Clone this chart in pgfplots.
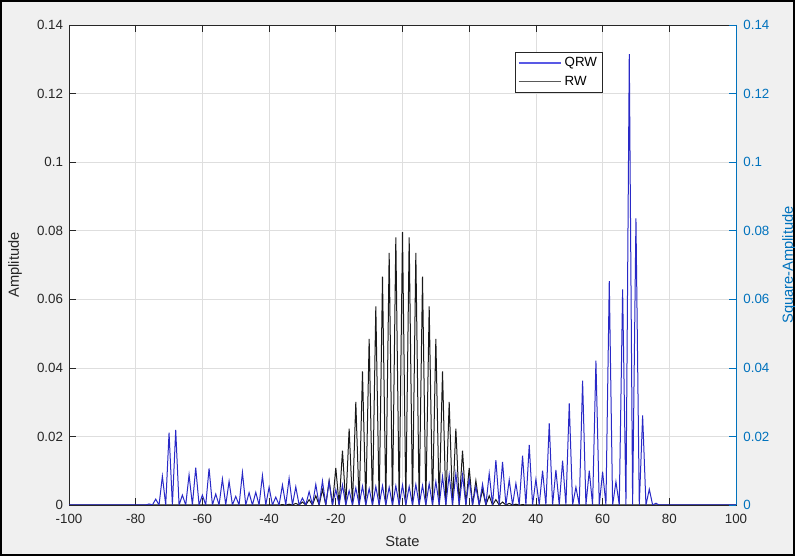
\documentclass[border=0pt]{standalone}
\usepackage{pgfplots}
\pgfplotsset{compat=1.18}
\usepackage{fontspec}
\setmainfont{Liberation Sans}
\definecolor{matgray}{rgb}{0.15,0.15,0.15}
\definecolor{matblue}{rgb}{0,0.447,0.741}
\definecolor{qrwblue}{rgb}{0.16,0.16,0.78}
\definecolor{qrwleg}{rgb}{0.35,0.35,0.9}
\definecolor{rwleg}{rgb}{0.35,0.35,0.35}
\definecolor{figbg}{rgb}{0.94,0.94,0.94}
\definecolor{gridc}{rgb}{0.87,0.87,0.87}

\begin{document}
\begin{tikzpicture}
% figure background and frame
\fill[figbg] (0pt,0pt) rectangle (596.25pt,417pt);
\draw[black, line width=1.5pt] (0.75pt,0.75pt) rectangle (595.5pt,416.25pt);

\begin{axis}[
    at={(51.75pt,38.25pt)}, anchor=south west,
    scale only axis, width=500.25pt, height=360pt,
    xmin=-100, xmax=100, ymin=0, ymax=0.14,
    axis background/.style={fill=white},
    xtick={-100,-80,-60,-40,-20,0,20,40,60,80,100},
    xticklabels={-100,-80,-60,-40,-20,0,20,40,60,80,100},
    ytick={0,0.02,0.04,0.06,0.08,0.1,0.12,0.14},
    yticklabels={0,0.02,0.04,0.06,0.08,0.1,0.12,0.14},
    scaled y ticks=false,
    grid=major, grid style={gridc, line width=0.5pt},
    axis line style={matgray, line width=0.5pt},
    tick style={matgray, line width=0.5pt},
    major tick length=5pt, tick align=inside,
    ytick pos=left, xtick pos=both,
    ticklabel style={font=\fontsize{10}{12}\selectfont, text=matgray},
    xticklabel style={yshift=-3pt},
    yticklabel style={xshift=-1pt},
    xlabel={State}, ylabel={Amplitude},
    label style={font=\fontsize{11}{13}\selectfont, text=matgray},
    xlabel style={at={(axis description cs:0.5,-0.075)}, anchor=center},
    ylabel style={at={(axis description cs:-0.081,0.5)}, anchor=center},
    legend style={at={(0.80,0.944)}, anchor=north east,
        font=\fontsize{10}{12}\selectfont, draw=matgray, fill=white,
        inner sep=2pt, row sep=1.5pt, cells={anchor=west}},
    legend image code/.code={\draw[#1, line width=1.1pt] (0pt,0pt) -- (32pt,0pt);},
]
\addlegendimage{qrwleg}
\addlegendentry{QRW}
\addlegendimage{rwleg}
\addlegendentry{RW}

% RW: classical walk
\addplot[black!90, line width=0.75pt, forget plot] coordinates {
(-100,0)(-41,0)
(-40,0.0000233)(-39,0)(-38,0.0000524)(-37,0)(-36,0.000113)(-35,0)(-34,0.000232)(-33,0)
(-32,0.000458)(-31,0)(-30,0.000864)(-29,0)(-28,0.001560)(-27,0)(-26,0.002698)(-25,0)
(-24,0.004473)(-23,0)(-22,0.007111)(-21,0)(-20,0.010844)(-19,0)(-18,0.015869)(-17,0)
(-16,0.022292)(-15,0)(-14,0.030069)(-13,0)(-12,0.038952)(-11,0)(-10,0.048474)(-9,0)
(-8,0.057958)(-7,0)(-6,0.066590)(-5,0)(-4,0.073527)(-3,0)(-2,0.078029)(-1,0)
(0,0.079589)
(1,0)(2,0.078029)(3,0)(4,0.073527)(5,0)(6,0.066590)(7,0)(8,0.057958)
(9,0)(10,0.048474)(11,0)(12,0.038952)(13,0)(14,0.030069)(15,0)(16,0.022292)
(17,0)(18,0.015869)(19,0)(20,0.010844)(21,0)(22,0.007111)(23,0)(24,0.004473)
(25,0)(26,0.002698)(27,0)(28,0.001560)(29,0)(30,0.000864)(31,0)(32,0.000458)
(33,0)(34,0.000232)(35,0)(36,0.000113)(37,0)(38,0.0000524)(39,0)(40,0.0000233)
(41,0)(100,0)
};

% QRW: quantum walk
\addplot[qrwblue, line width=0.75pt, forget plot] coordinates {
(-100,0)(-77,0)
(-76,0.0003)(-75,0)(-74,0.0017)(-73,0)(-72,0.0084)(-71,0)(-70,0.0211)(-69,0)
(-68,0.0219)(-67,0)(-66,0.0029)(-65,0)(-64,0.0088)(-63,0)(-62,0.0109)(-61,0)
(-60,0.0029)(-59,0)(-58,0.0107)(-57,0)(-56,0.0032)(-55,0)(-54,0.0076)(-53,0)
(-52,0.0069)(-51,0)(-50,0.0025)(-49,0)(-48,0.0095)(-47,0)(-46,0.0036)(-45,0)
(-44,0.0037)(-43,0)(-42,0.0086)(-41,0)(-40,0.0052)(-39,0)(-38,0.0023)(-37,0)
(-36,0.0058)(-35,0)(-34,0.0078)(-33,0)(-32,0.0053)(-31,0)(-30,0.0020)(-29,0)
(-28,0.0039)(-27,0)(-26,0.0060)(-25,0)(-24,0.0070)(-23,0)(-22,0.0068)(-21,0)
(-20,0.0045)(-19,0)(-18,0.0058)(-17,0)(-16,0.0042)(-15,0)(-14,0.0050)(-13,0)
(-12,0.0055)(-11,0)(-10,0.0048)(-9,0)(-8,0.0054)(-7,0)(-6,0.0056)(-5,0)
(-4,0.0052)(-3,0)(-2,0.0056)(-1,0)(0,0.0058)(1,0)(2,0.0054)(3,0)
(4,0.0060)(5,0)(6,0.0057)(7,0)(8,0.0062)(9,0)(10,0.0068)(11,0)
(12,0.0083)(13,0)(14,0.0088)(15,0)(16,0.0092)(17,0)(18,0.0087)(19,0)
(20,0.0076)(21,0)(22,0.0053)(23,0)(24,0.0061)(25,0)(26,0.0092)(27,0)
(28,0.0131)(29,0)(30,0.0126)(31,0)(32,0.0073)(33,0)(34,0.0063)(35,0)
(36,0.0144)(37,0)(38,0.0175)(39,0)(40,0.0075)(41,0)(42,0.0100)(43,0)
(44,0.0238)(45,0)(46,0.0102)(47,0)(48,0.0129)(49,0)(50,0.0296)(51,0)
(52,0.0052)(53,0)(54,0.0363)(55,0)(56,0.0100)(57,0)(58,0.0421)(59,0)
(60,0.0097)(61,0)(62,0.0653)(63,0)(64,0.0068)(65,0)(66,0.0629)(67,0)
(68,0.1315)(69,0)(70,0.0836)(71,0)(72,0.0261)(73,0)(74,0.0046)(75,0)
(76,0.0005)(77,0)(100,0)
};
\end{axis}

% right axis (Square-Amplitude)
\begin{axis}[
    at={(51.75pt,38.25pt)}, anchor=south west,
    scale only axis, width=500.25pt, height=360pt,
    xmin=-100, xmax=100, ymin=0, ymax=0.14,
    hide x axis, axis y line*=right,
    ytick={0,0.02,0.04,0.06,0.08,0.1,0.12,0.14},
    yticklabels={0,0.02,0.04,0.06,0.08,0.1,0.12,0.14},
    scaled y ticks=false,
    y axis line style={matblue, line width=0.5pt},
    ytick style={matblue, line width=0.5pt},
    major tick length=5pt, ytick align=inside,
    yticklabel style={font=\fontsize{10}{12}\selectfont, text=matblue, xshift=2pt},
    ylabel={Square-Amplitude},
    ylabel style={font=\fontsize{11}{13}\selectfont, text=matblue,
        at={(axis description cs:1.0795,0.5)}, anchor=center},
]
\end{axis}

\pgfresetboundingbox
\useasboundingbox (0pt,0pt) rectangle (596.25pt,417pt);
\end{tikzpicture}
\end{document}
